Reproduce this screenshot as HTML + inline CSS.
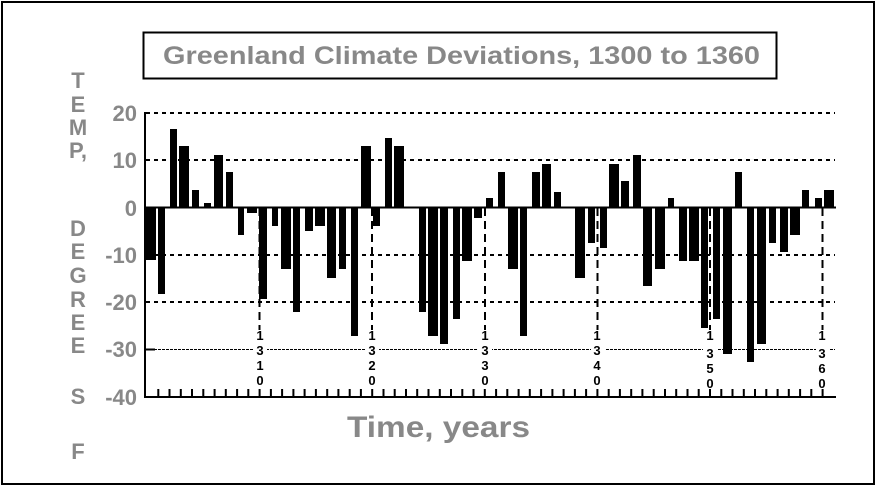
<!DOCTYPE html>
<html><head><meta charset="utf-8"><style>
html,body{margin:0;padding:0;background:#fff}
svg{display:block}
text{font-family:"Liberation Sans",sans-serif;font-weight:bold}
</style></head><body>
<svg width="880" height="487" viewBox="0 0 880 487">
<rect x="2" y="2" width="872" height="482" fill="none" stroke="#000" stroke-width="2"/>
<rect x="143.5" y="32.5" width="633" height="46" fill="#fff" stroke="#000" stroke-width="2"/>
<text x="163" y="64" font-size="25" fill="#888" textLength="597" lengthAdjust="spacingAndGlyphs">Greenland Climate Deviations, 1300 to 1360</text>
<g fill="#888" font-size="22" text-anchor="middle">
<text x="78" y="88">T</text><text x="78" y="112">E</text><text x="78" y="135">M</text><text x="78" y="158">P,</text>
<text x="78" y="236">D</text><text x="78" y="259">E</text><text x="78" y="283">G</text><text x="78" y="307">R</text>
<text x="78" y="330">E</text><text x="78" y="353">E</text><text x="78" y="404">S</text><text x="78" y="459">F</text>
</g>
<g fill="#888" font-size="22" text-anchor="end">
<text x="137" y="121">20</text><text x="137" y="168">10</text><text x="137" y="216">0</text>
<text x="137" y="263">-10</text><text x="137" y="310">-20</text><text x="137" y="357">-30</text><text x="137" y="405">-40</text>
</g>
<text x="347" y="437" font-size="30" fill="#888" textLength="183" lengthAdjust="spacingAndGlyphs">Time, years</text>
<g stroke="#000" stroke-width="2" stroke-dasharray="4,4">
<line x1="146" y1="113" x2="835" y2="113"/><line x1="146" y1="160" x2="835" y2="160"/>
<line x1="146" y1="255" x2="835" y2="255"/><line x1="146" y1="302" x2="835" y2="302"/>
</g>
<line x1="146" y1="349.5" x2="835" y2="349.5" stroke="#000" stroke-width="1" stroke-dasharray="3,1"/>
<line x1="145" y1="349.5" x2="155" y2="349.5" stroke="#000" stroke-width="2"/>
<g stroke="#000" stroke-width="2" stroke-dasharray="8,5">
<line x1="259.5" y1="208" x2="259.5" y2="330"/><line x1="372" y1="208" x2="372" y2="330"/>
<line x1="485" y1="208" x2="485" y2="330"/><line x1="597.5" y1="208" x2="597.5" y2="330"/>
<line x1="710" y1="208" x2="710" y2="330"/><line x1="822.5" y1="208" x2="822.5" y2="330"/>
</g>
<g fill="#fff">
<rect x="253" y="343" width="14" height="13"/><rect x="365" y="343" width="14" height="13"/><rect x="478" y="343" width="14" height="13"/>
<rect x="591" y="343" width="14" height="13"/><rect x="703" y="343" width="14" height="13"/><rect x="816" y="343" width="14" height="13"/>
</g>
<g font-size="13" fill="#000" text-anchor="middle">
<text x="260" y="340">1</text><text x="260" y="355">3</text><text x="260" y="370">1</text><text x="260" y="385">0</text>
<text x="372" y="340">1</text><text x="372" y="355">3</text><text x="372" y="370">2</text><text x="372" y="385">0</text>
<text x="485" y="340">1</text><text x="485" y="355">3</text><text x="485" y="370">3</text><text x="485" y="385">0</text>
<text x="597" y="340">1</text><text x="597" y="355">3</text><text x="597" y="370">4</text><text x="597" y="385">0</text>
<text x="710" y="340">1</text><text x="710" y="358">3</text><text x="710" y="373">5</text><text x="710" y="388">0</text>
<text x="822" y="340">1</text><text x="822" y="358">3</text><text x="822" y="373">6</text><text x="822" y="388">0</text>
</g>
<g fill="#000">
<rect x="145" y="208" width="11" height="52"/><rect x="158" y="208" width="7" height="86"/>
<rect x="170" y="129" width="7" height="79"/><rect x="179" y="146" width="10" height="62"/>
<rect x="192" y="190" width="7" height="18"/><rect x="204" y="203" width="7" height="5"/>
<rect x="214" y="155" width="9" height="53"/><rect x="226" y="172" width="7" height="36"/>
<rect x="238" y="208" width="6" height="27"/><rect x="247" y="208" width="10" height="5"/>
<rect x="259" y="208" width="8" height="91"/><rect x="272" y="208" width="6" height="18"/>
<rect x="281" y="208" width="10" height="61"/><rect x="293" y="208" width="7" height="104"/>
<rect x="305" y="208" width="8" height="23"/><rect x="315" y="208" width="10" height="18"/>
<rect x="327" y="208" width="9" height="70"/><rect x="339" y="208" width="7" height="61"/>
<rect x="351" y="208" width="7" height="128"/><rect x="361" y="146" width="10" height="62"/>
<rect x="373" y="208" width="7" height="18"/><rect x="385" y="138" width="7" height="70"/>
<rect x="394" y="146" width="10" height="62"/><rect x="419" y="208" width="7" height="104"/>
<rect x="428" y="208" width="10" height="128"/><rect x="440" y="208" width="8" height="136"/>
<rect x="453" y="208" width="7" height="111"/><rect x="462" y="208" width="10" height="53"/>
<rect x="474" y="208" width="8" height="10"/><rect x="486" y="198" width="7" height="10"/>
<rect x="498" y="172" width="7" height="36"/><rect x="508" y="208" width="10" height="61"/>
<rect x="520" y="208" width="7" height="128"/><rect x="532" y="172" width="8" height="36"/>
<rect x="542" y="164" width="9" height="44"/><rect x="554" y="192" width="7" height="16"/>
<rect x="575" y="208" width="10" height="70"/><rect x="588" y="208" width="7" height="35"/>
<rect x="600" y="208" width="7" height="40"/><rect x="609" y="164" width="10" height="44"/>
<rect x="621" y="181" width="8" height="27"/><rect x="633" y="155" width="8" height="53"/>
<rect x="643" y="208" width="9" height="78"/><rect x="655" y="208" width="10" height="61"/>
<rect x="668" y="198" width="6" height="10"/><rect x="679" y="208" width="8" height="53"/>
<rect x="689" y="208" width="10" height="53"/><rect x="701" y="208" width="7" height="120"/>
<rect x="713" y="208" width="7" height="111"/><rect x="723" y="208" width="9" height="146"/>
<rect x="735" y="172" width="7" height="36"/><rect x="747" y="208" width="7" height="154"/>
<rect x="757" y="208" width="9" height="136"/><rect x="769" y="208" width="7" height="35"/>
<rect x="780" y="208" width="8" height="44"/><rect x="790" y="208" width="10" height="27"/>
<rect x="802" y="190" width="7" height="18"/><rect x="815" y="198" width="7" height="10"/>
<rect x="824" y="190" width="10" height="18"/>
</g>
<line x1="145" y1="207.5" x2="836" y2="207.5" stroke="#000" stroke-width="2"/>
<line x1="145" y1="112" x2="145" y2="398" stroke="#000" stroke-width="2"/>
<line x1="144" y1="397" x2="836" y2="397" stroke="#000" stroke-width="2"/>
<g stroke="#000" stroke-width="2">
<path d="M158.3 397V389M169.5 397V389M180.8 397V389M192 397V389M203.3 397V389M214.6 397V389M225.8 397V389M237.1 397V389M248.3 397V389M259.6 397V389M270.9 397V389M282.1 397V389M293.4 397V389M304.6 397V389M315.9 397V389M327.2 397V389M338.4 397V389M349.7 397V389M360.9 397V389M372.2 397V389M383.5 397V389M394.7 397V389M406 397V389M417.2 397V389M428.5 397V389M439.8 397V389M451 397V389M462.3 397V389M473.5 397V389M484.8 397V389M496.1 397V389M507.3 397V389M518.6 397V389M529.8 397V389M541.1 397V389M552.4 397V389M563.6 397V389M574.9 397V389M586.1 397V389M597.4 397V389M608.7 397V389M619.9 397V389M631.2 397V389M642.4 397V389M653.7 397V389M665 397V389M676.2 397V389M687.5 397V389M698.7 397V389M710 397V389M721.3 397V389M732.5 397V389M743.8 397V389M755 397V389M766.3 397V389M777.6 397V389M788.8 397V389M800.1 397V389M811.3 397V389M822.6 397V389"/>
</g>
</svg>
</body></html>
